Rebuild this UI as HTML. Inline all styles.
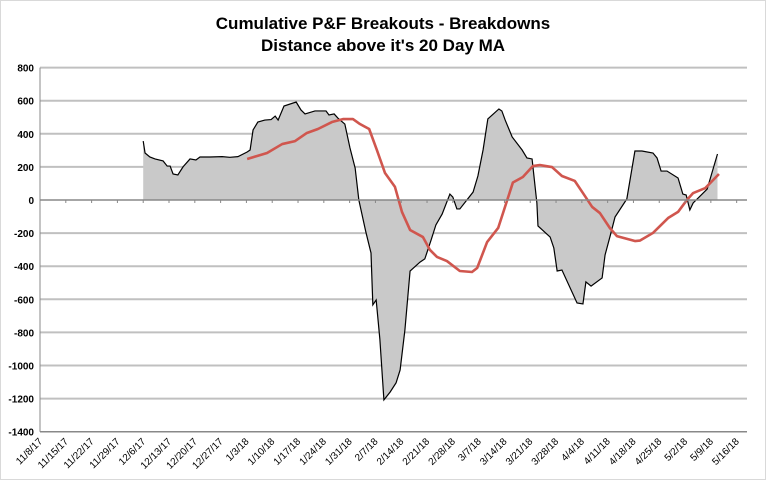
<!DOCTYPE html>
<html><head><meta charset="utf-8"><style>
body{margin:0;background:#fff;font-family:"Liberation Sans",sans-serif}
svg{display:block}
</style></head><body>
<svg id="chart" width="767" height="481" xmlns="http://www.w3.org/2000/svg">
<rect x="0.5" y="0.5" width="765" height="479" fill="#fff" stroke="#d9d9d9"/>
<text x="383" y="29" text-anchor="middle" font-size="17" font-weight="bold" fill="#000">Cumulative P&amp;F Breakouts - Breakdowns</text>
<text x="383" y="51" text-anchor="middle" font-size="17" font-weight="bold" fill="#000">Distance above it's 20 Day MA</text>
<g id="grid"></g><g id="area"></g><g id="lines"></g><g id="axes"></g>
</svg>
<script>
const yTicks=[800,600,400,200,0,-200,-400,-600,-800,-1000,-1200,-1400];
const xLabels=["11/8/17","11/15/17","11/22/17","11/29/17","12/6/17","12/13/17","12/20/17","12/27/17","1/3/18","1/10/18","1/17/18","1/24/18","1/31/18","2/7/18","2/14/18","2/21/18","2/28/18","3/7/18","3/14/18","3/21/18","3/28/18","4/4/18","4/11/18","4/18/18","4/25/18","5/2/18","5/9/18","5/16/18"];
// days since 11/8/17
const breakDays=[28,28.5,29.8,31.2,33.4,34.5,35.3,36.1,37.4,38.8,40.7,42.3,43.4,46.1,49.4,51.5,53.7,56.2,57,57.8,59.1,61,62.7,63.8,64.6,66.2,69.5,70.8,71.9,74.6,77.6,78.4,79.8,80.8,82.7,84.1,85.5,86.5,88.4,89.8,90.3,91.2,92.2,93.3,95,96.6,97.7,99,100.4,103.1,104.4,106.1,107.4,109.1,111.2,112,113.1,113.9,117.5,118.8,120.2,121.5,124.5,125.3,126.2,128.1,130.8,132.1,133.5,134.8,135.1,138.4,139.4,140.3,141.6,145.7,147.3,148.1,149.5,152.5,153.3,154.6,156,159.2,161.4,163.3,166.3,167.4,168.5,170.1,173.1,174.4,175.3,176.3,177.2,181,183.8];
const breakVals=[356,284,260,248,236,205,205,157,151,200,248,242,260,260,262,258,262,290,302,423,471,483,486,507,483,568,592,544,520,538,538,514,520,495,459,314,193,0,-193,-320,-634,-604,-840,-1208,-1160,-1105,-1027,-785,-429,-375,-356,-242,-151,-85,36,18,-54,-54,48,145,302,490,550,538,483,381,302,254,248,-18,-157,-224,-290,-429,-423,-622,-628,-495,-520,-471,-332,-224,-103,6,296,296,284,254,175,175,133,36,30,-60,-18,66,278];
const maDays=[56.2,58.9,61.6,65.7,69.2,72.4,75.4,79.2,82.2,84.9,86.8,89.3,91.4,93.6,96.3,98.2,100.4,103.9,105.8,107.7,110.4,113.9,117.2,118.6,121.3,124.3,128.3,131,133.7,135.6,138.9,141.6,145.1,147.3,149.8,151.9,154.6,156.5,161.4,162.8,166.3,170.4,173.1,175.5,177.2,180.5,184.2];
const maVals=[248,266,284,338,356,405,429,471,489,489,459,429,302,163,79,-72,-181,-224,-302,-344,-369,-429,-435,-411,-254,-169,106,139,205,211,199,145,115,42,-42,-79,-169,-218,-248,-245,-199,-109,-72,0,42,72,157];
const X0=40,DAY=3.686,Y0=200,YS=33.1/200,RIGHT=747;
const xs=d=>X0+d*DAY, ys=v=>Y0-v*YS;
const NS="http://www.w3.org/2000/svg";
function mk(t,a,p){const e=document.createElementNS(NS,t);for(const k in a)e.setAttribute(k,a[k]);p.appendChild(e);return e;}
const grid=document.getElementById('grid'),axes=document.getElementById('axes');
yTicks.forEach(v=>{
 if(v!==0&&v!==-1400){const l=mk('line',{x1:X0,x2:RIGHT,y1:ys(v),y2:ys(v),stroke:'#c0c0c0','stroke-width':2},grid);
 
 }
 const t=mk('text',{x:34,y:ys(v)+4,'text-anchor':'end','font-size':10,'font-weight':'bold',fill:'#000'},axes);t.textContent=v;
 
 
});
// area
let d='M'+xs(breakDays[0])+','+ys(0);
breakDays.forEach((dd,i)=>{d+=' L'+xs(dd)+','+ys(breakVals[i]);});
d+=' L'+xs(breakDays[breakDays.length-1])+','+ys(0)+' Z';
const ar=mk('path',{d:d,fill:'#c9c9c9',stroke:'none'},document.getElementById('area'));


const lines=document.getElementById('lines');
const bl=mk('polyline',{points:breakDays.map((dd,i)=>xs(dd)+','+ys(breakVals[i])).join(' '),fill:'none',stroke:'#000','stroke-width':1.2},lines);


const ml=mk('polyline',{points:maDays.map((dd,i)=>xs(dd)+','+ys(maVals[i])).join(' '),fill:'none',stroke:'#d0564e','stroke-width':2.6,'stroke-linejoin':'round'},lines);


// axes
const ya=mk('line',{x1:X0,x2:X0,y1:ys(800),y2:ys(-1400),stroke:'#888','stroke-width':1},axes);


const bx=mk('line',{x1:X0,x2:RIGHT,y1:ys(-1400),y2:ys(-1400),stroke:'#888','stroke-width':1.5},axes);


const xa=mk('line',{x1:X0,x2:RIGHT,y1:Y0,y2:Y0,stroke:'#888','stroke-width':1.5},axes);


xLabels.forEach((s,i)=>{
 const x=xs(i*7);
 const tk=mk('line',{x1:x,x2:x,y1:Y0,y2:Y0+3,stroke:'#888'},axes);
 
 
 const t=mk('text',{x:x+3,y:442,'text-anchor':'end','font-size':10,fill:'#000',transform:'rotate(-45 '+(x+3)+' 442)'},axes);
 t.textContent=s;
 
 
});
</script>
</body></html>
